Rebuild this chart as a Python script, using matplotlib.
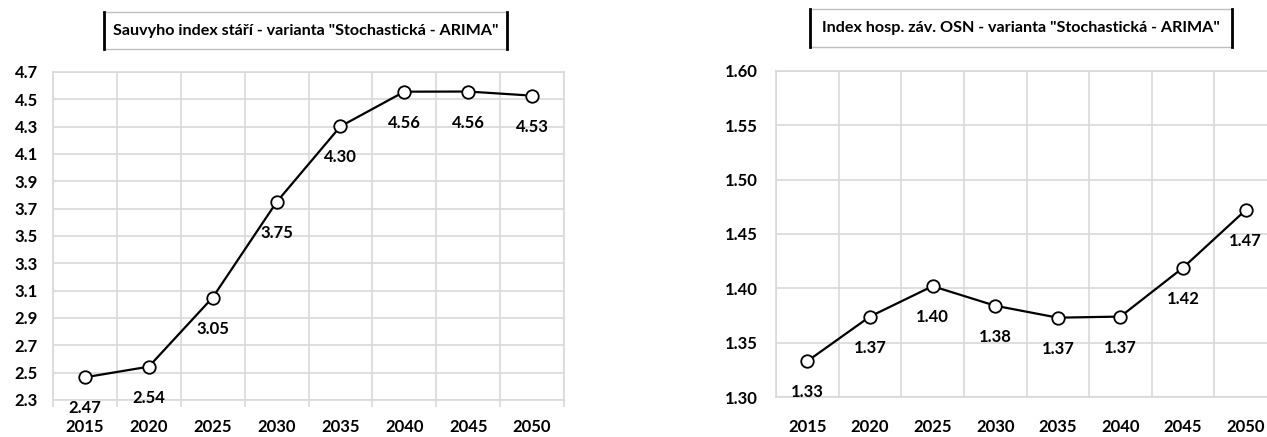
import matplotlib
matplotlib.use('Agg')
import matplotlib.pyplot as plt
from matplotlib.patches import Rectangle
from matplotlib.lines import Line2D

years = ['2015', '2020', '2025', '2030', '2035', '2040', '2045', '2050']

# Sauvy ageing index and OSN economic dependency index, ARIMA projection
sauvy_index = [2.466, 2.544, 3.050, 3.748, 4.302, 4.556, 4.557, 4.527]
osn_index = [1.333, 1.374, 1.402, 1.384, 1.373, 1.374, 1.419, 1.472]

sauvy_ticks = [2.3, 2.5, 2.7, 2.9, 3.1, 3.3, 3.5, 3.7, 3.9, 4.1, 4.3, 4.5, 4.7]
osn_ticks = [1.30, 1.35, 1.40, 1.45, 1.50, 1.55, 1.60]

title_left = 'Sauvyho index stáří - varianta "Stochastická - ARIMA"'
title_right = 'Index hosp. záv. OSN - varianta "Stochastická - ARIMA"'

plt.rcParams['font.family'] = ['Lato', 'DejaVu Sans']
plt.rcParams['font.weight'] = 'bold'

W, H = 1267, 437
fig = plt.figure(figsize=(W / 100, H / 100), dpi=100)

GRID = '#d9d9d9'
FS = 12


def px_axes(x0, y0, x1, y1):
    # pixel box (top-left origin) -> figure fraction
    return fig.add_axes([x0 / W, 1 - y1 / H, (x1 - x0) / W, (y1 - y0) / H])


def draw_panel(ax, values, ticks, fmt, tick_fmt, xpad, ypad, tick_len):
    x = list(range(len(years)))
    ax.set_xlim(-0.5, len(years) - 0.5)
    ax.set_ylim(ticks[0], ticks[-1])
    ax.set_yticks(ticks)
    ax.set_yticklabels([tick_fmt % t for t in ticks])
    ax.set_xticks(x)
    ax.set_xticklabels(years)
    ax.set_xticks([i - 0.5 for i in range(len(years) + 1)], minor=True)
    ax.grid(True, which='major', axis='y', color=GRID, lw=1.2)
    ax.grid(True, which='minor', axis='x', color=GRID, lw=1.2)
    for s in ax.spines.values():
        s.set_color(GRID)
        s.set_linewidth(1.2)
    ax.tick_params(axis='both', which='major', length=0, labelsize=FS,
                   colors='black')
    ax.tick_params(axis='y', pad=ypad)
    ax.tick_params(axis='x', pad=xpad)
    ax.tick_params(axis='x', which='minor', length=tick_len, color=GRID,
                   width=1.2)
    for lab in ax.get_xticklabels() + ax.get_yticklabels():
        lab.set_fontweight('bold')
    ax.plot(x, values, color='black', lw=1.6, marker='o', ms=9,
            mfc='white', mec='black', mew=1.3, zorder=5, clip_on=False)
    for xi, v in zip(x, values):
        ax.annotate(fmt % v, (xi, v), xytext=(0, -31),
                    textcoords='offset pixels', ha='center', va='center',
                    fontsize=FS, fontweight='bold', zorder=6)


def title_box(x0, y0, x1, y1, text):
    fig.patches.append(Rectangle((x0 / W, 1 - y1 / H), (x1 - x0) / W,
                                 (y1 - y0) / H, transform=fig.transFigure,
                                 fill=False, edgecolor='#bfbfbf', lw=1))
    for xe in (x0, x1):
        fig.lines.append(Line2D([xe / W, xe / W], [1 - y0 / H, 1 - y1 / H],
                                transform=fig.transFigure, color='black',
                                lw=2))
    fig.text((x0 + x1) / 2 / W, 1 - (y0 + y1) / 2 / H, text,
             ha='center', va='center', fontsize=11.6, fontweight='bold')


ax1 = px_axes(53, 72, 564, 400)
draw_panel(ax1, sauvy_index, sauvy_ticks, '%.2f', '%.1f', 14, 11, 5)

ax2 = px_axes(776, 71, 1277, 397)
draw_panel(ax2, osn_index, osn_ticks, '%.2f', '%.2f', 16, 13, 0)

title_box(104, 12, 507, 49, title_left)
title_box(810, 9, 1232, 47, title_right)

fig.savefig('out.png', dpi=100, facecolor='white')
